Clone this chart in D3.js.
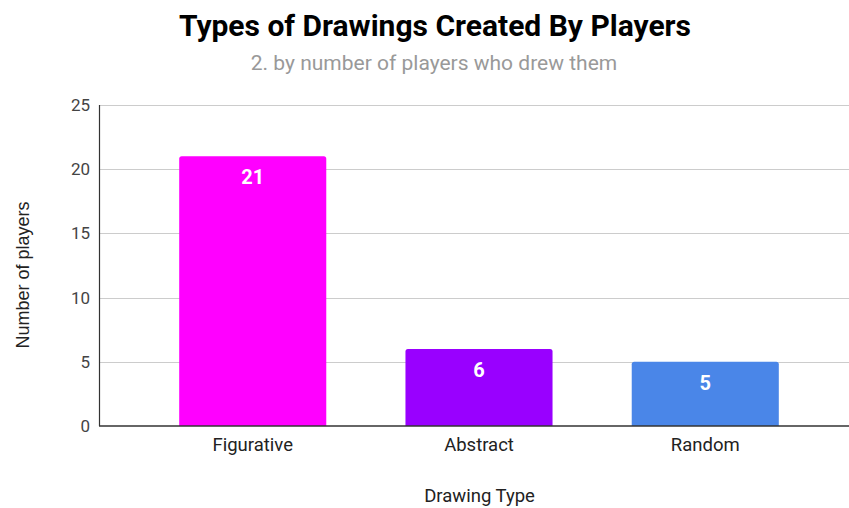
<!DOCTYPE html>
<html><head><meta charset="utf-8">
<script src="https://cdn.jsdelivr.net/npm/d3@7"></script>
<style>body{margin:0;background:#fff}svg{display:block}</style>
</head><body>
<script>
const categories = ["Figurative", "Abstract", "Random"];
const values = [21, 6, 5];
const barColors = ["#ff00ff", "#9900ff", "#4a86e8"];
const yTicks = [0, 5, 10, 15, 20, 25];
const title = "Types of Drawings Created By Players";
const subtitle = "2. by number of players who drew them";
const xTitle = "Drawing Type";
const yTitle = "Number of players";

const W = 849, H = 508;
const svg = d3.select("body").append("svg").attr("width", W).attr("height", H);

const x = d3.scaleBand().domain(categories).range([100, 858]).paddingInner(0.35).paddingOuter(0.35);
const y = d3.scaleLinear().domain([0, 25]).range([426, 105]);

// gridlines
svg.append("g").selectAll("line").data(yTicks.filter(d => d > 0)).join("line")
  .attr("x1", 100).attr("x2", 849)
  .attr("y1", d => Math.round(y(d)) + 0.5).attr("y2", d => Math.round(y(d)) + 0.5)
  .attr("stroke", "#cccccc").attr("stroke-width", 1);

// y tick labels
const yAxis = d3.axisLeft(y).tickValues(yTicks).tickSize(0).tickPadding(10);
const gy = svg.append("g").attr("transform", "translate(100,0)").call(yAxis);
gy.select(".domain").remove();
gy.selectAll("text").attr("font-family", "Roboto").attr("font-size", 17).attr("fill", "#444");

// bars
const r = 2.5;
svg.append("g").selectAll("path").data(values).join("path")
  .attr("fill", (d, i) => barColors[i])
  .attr("d", (d, i) => {
    const x0 = x(categories[i]), w = x.bandwidth(), y0 = y(d), y1 = y(0);
    return `M${x0},${y1}V${y0 + r}Q${x0},${y0} ${x0 + r},${y0}H${x0 + w - r}Q${x0 + w},${y0} ${x0 + w},${y0 + r}V${y1}Z`;
  });

// bar labels
svg.append("g").selectAll("text").data(values).join("text")
  .attr("x", (d, i) => x(categories[i]) + x.bandwidth() / 2)
  .attr("y", d => y(d) + 28)
  .attr("text-anchor", "middle")
  .attr("font-family", "Roboto").attr("font-weight", "bold").attr("font-size", 20)
  .attr("fill", "#fff").text(d => d);

// axes lines
svg.append("line").attr("x1", 99.5).attr("x2", 99.5).attr("y1", 105).attr("y2", 426)
  .attr("stroke", "#333").attr("stroke-width", 1.2);
const xAxis = d3.axisBottom(x).tickSize(0).tickPadding(0);
const gx = svg.append("g").attr("transform", "translate(0,426)").call(xAxis);
gx.select(".domain").remove();
gx.selectAll("text").attr("dy", null).attr("y", 24.7)
  .attr("font-family", "Roboto").attr("font-size", 18.5).attr("fill", "#222");
svg.append("line").attr("x1", 99).attr("x2", 849).attr("y1", 426).attr("y2", 426)
  .attr("stroke", "#333").attr("stroke-width", 1.5);

// titles
svg.append("text").attr("x", 435).attr("y", 36).attr("text-anchor", "middle")
  .attr("font-family", "Roboto").attr("font-weight", "bold").attr("font-size", 30).attr("fill", "#000").text(title);
svg.append("text").attr("x", 434).attr("y", 70).attr("text-anchor", "middle")
  .attr("font-family", "Roboto").attr("font-size", 21).attr("fill", "#999").text(subtitle);
svg.append("text").attr("x", 479.5).attr("y", 502).attr("text-anchor", "middle")
  .attr("font-family", "Roboto").attr("font-size", 18.5).attr("fill", "#222").text(xTitle);
svg.append("text").attr("transform", "translate(29,275) rotate(-90)").attr("text-anchor", "middle")
  .attr("font-family", "Liberation Sans").attr("font-size", 18).attr("fill", "#222").text(yTitle);
</script>
</body></html>
